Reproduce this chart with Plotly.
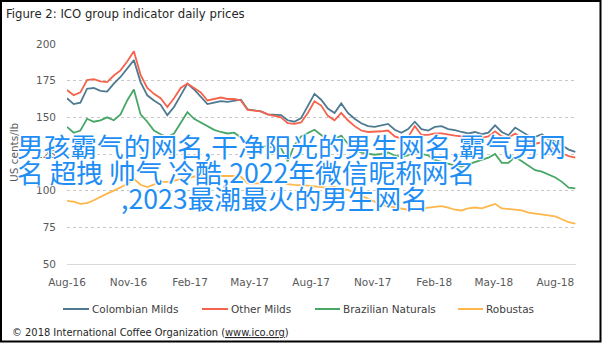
import pandas as pd
import plotly.graph_objects as go

# ---------------- data (US cents/lb, read every 10 days from 1 Aug 2016) ----------------
dates = pd.date_range("2016-08-01", periods=77, freq="10D")

colombian_milds = [163, 159, 160, 169.5, 170, 168, 167.5, 173, 177.5, 183.5,
                   189, 174, 165, 161.5, 158.5, 151.5, 157, 165, 173, 169,
                   164, 159, 160, 161, 160.5, 161, 162, 155.5, 155, 154,
                   152, 151.5, 151.5, 148, 147, 149.5, 158, 166, 162, 156,
                   153, 159.5, 153, 149, 146, 144, 143.5, 144.5, 145.5, 141.5,
                   139.5, 142, 147, 142, 141, 143.5, 144, 142, 141.3, 140,
                   139, 140, 138.5, 139.5, 144.5, 140, 137.8, 143, 140, 137.5,
                   136.7, 138.5, 135, 133.5, 131, 128, 126.5]

other_milds = [168.6, 165, 167, 175.4, 176, 174.5, 174, 178.5, 182, 188,
               195, 179, 170, 166, 163, 157, 163, 170, 173, 170,
               167, 161.5, 162.5, 163.5, 162.5, 162.5, 161.5, 155, 154.5, 154,
               152, 151, 150, 146, 145.5, 146.5, 153, 161, 158, 151,
               148, 153, 148, 144, 141, 140, 140, 140.5, 141, 137,
               135.5, 136.5, 144, 138, 138, 139, 139, 138, 137.5, 137,
               137, 137, 136, 137, 140.5, 137, 136, 139, 136, 133,
               132, 133, 130, 128, 125.5, 123.5, 122.5]

brazilian_naturals = [143.5, 139.5, 141, 149, 147, 148, 150, 148, 152, 161.5,
                      169, 152, 147, 141, 138.5, 136.5, 139, 146, 153.5, 149,
                      146.5, 143.5, 141.5, 140, 139, 139.5, 136, 133, 131, 130.5,
                      130.5, 130, 129, 120, 131, 137, 139.5, 141.5, 138, 134,
                      135, 137.5, 132, 128, 126, 125, 124.5, 125, 126, 124,
                      123, 124, 127, 125, 124, 121, 119.5, 118, 117, 116.5,
                      118, 119, 121, 122.5, 125, 119, 119, 123, 120, 117,
                      114, 113, 111, 109, 106, 102, 101.5]

robustas = [93, 92.5, 91, 91.5, 93.5, 96, 98, 100, 102, 104.5,
            108, 104, 102.5, 104, 106, 106, 107, 107.5, 108.5, 110,
            110.5, 110, 110, 110.5, 110.5, 110, 109.5, 105, 105, 105,
            106, 107, 106, 104.5, 104, 104, 103.5, 103, 102.5, 102,
            102.5, 101, 100.5, 98.5, 96, 94.5, 92, 90.5, 89.5, 88.5,
            88, 87, 87, 88, 88.5, 89, 89.5, 88.5, 87, 86.5,
            88, 88.5, 88, 89.5, 91, 88, 87.5, 87.5, 86.5, 85,
            84.5, 84, 83.5, 82.5, 80.5, 78.5, 77.5]

series_names = ["Colombian Milds", "Other Milds", "Brazilian Naturals", "Robustas"]
series_values = [colombian_milds, other_milds, brazilian_naturals, robustas]
series_colors = ["#4d7a90", "#f5634c", "#47a767", "#ffb74a"]

title_text = "Figure 2: ICO group indicator daily prices"
y_title = "US cents/lb"
overlay_lines = ["男孩霸气的网名,干净阳光的男生网名,霸气男网",
                 "名 超拽 帅气 冷酷,2022年微信昵称网名",
                 ",2023最潮最火的男生网名"]
credit = '© 2018 International Coffee Organization (<span style="text-decoration:underline">www.ico.org</span>)'

# ---------------- layout geometry ----------------
W, H = 604, 343
L, R, T, B = 67, 576, 44, 264   # plot area in px


def px_x(x):
    return (x - L) / (R - L)


def px_y(y):
    return (B - y) / (B - T)


fig = go.Figure()
for name, vals, col in zip(series_names, series_values, series_colors):
    fig.add_trace(go.Scatter(x=dates, y=vals, name=name, mode="lines",
                             line=dict(color=col, width=1.8), showlegend=False))

tick_font = dict(family="DejaVu Sans", size=10.5, color="#595959")

fig.update_layout(
    width=W, height=H,
    margin=dict(l=L, r=W - R, t=T, b=H - B, pad=0),
    paper_bgcolor="white", plot_bgcolor="white",
    showlegend=False,
    xaxis=dict(type="date", range=["2016-08-01", "2018-09-01"],
               tick0="2016-08-01", dtick="M3", tickformat="%b-%y",
               showgrid=False, zeroline=False,
               showline=True, linecolor="#d9d9d9", linewidth=1,
               ticks="", tickfont=tick_font, ticklabelstandoff=8),
    yaxis=dict(range=[50, 200], tickvals=[50, 75, 100, 125, 150, 175, 200],
               showgrid=True, gridcolor="#c8c8c8", griddash="dot", gridwidth=1,
               zeroline=False, showline=False, ticks="",
               tickfont=tick_font, ticklabelstandoff=10),
)

annotations = [
    dict(text=title_text, x=px_x(4), y=px_y(14), xanchor="left", yanchor="middle",
         showarrow=False, xref="paper", yref="paper",
         font=dict(family="Liberation Sans Narrow, DejaVu Sans Condensed", size=13, color="#262626")),
    dict(text=y_title, x=px_x(14), y=px_y(152), xanchor="center", yanchor="middle",
         textangle=-90, showarrow=False, xref="paper", yref="paper",
         font=dict(family="DejaVu Sans", size=10.5, color="#595959")),
    dict(text=credit, x=px_x(10), y=px_y(332), xanchor="left", yanchor="middle",
         showarrow=False, xref="paper", yref="paper",
         font=dict(family="Liberation Sans Narrow, DejaVu Sans Condensed", size=11, color="#262626")),
]

# manual legend (line sample + label per series)
legend_pos = [(63, 89), (202, 228), (315, 340), (458, 483)]
shapes = []
for name, col, (x0, x1) in zip(series_names, series_colors, legend_pos):
    shapes.append(dict(type="line", xref="paper", yref="paper",
                       x0=px_x(x0), x1=px_x(x1), y0=px_y(309), y1=px_y(309),
                       line=dict(color=col, width=2)))
    annotations.append(dict(text=name, x=px_x(x1 + 1), y=px_y(309), xanchor="left", yanchor="middle",
                            showarrow=False, xref="paper", yref="paper",
                            font=dict(family="DejaVu Sans", size=10.5, color="#404040")))

shadow = "1px 1px 1px #fff, -1px -1px 1px #fff, 1px -1px 1px #fff, -1px 1px 1px #fff"
for line, (lx, ly) in zip(overlay_lines, [(15, 145), (15, 171), (119, 197)]):
    annotations.append(dict(text=line, x=px_x(lx), y=px_y(ly), xanchor="left", yanchor="middle",
                            showarrow=False, xref="paper", yref="paper",
                            font=dict(family="Noto Sans CJK SC", size=26.7, color="#1e8ef5",
                                      shadow=shadow)))

# outer black frame
shapes.append(dict(type="rect", xref="paper", yref="paper",
                   x0=px_x(1), x1=px_x(600.5), y0=px_y(341.5), y1=px_y(1),
                   line=dict(color="black", width=2), fillcolor="rgba(0,0,0,0)", layer="above"))

fig.update_layout(annotations=annotations, shapes=shapes)

fig.write_html("out.html")
